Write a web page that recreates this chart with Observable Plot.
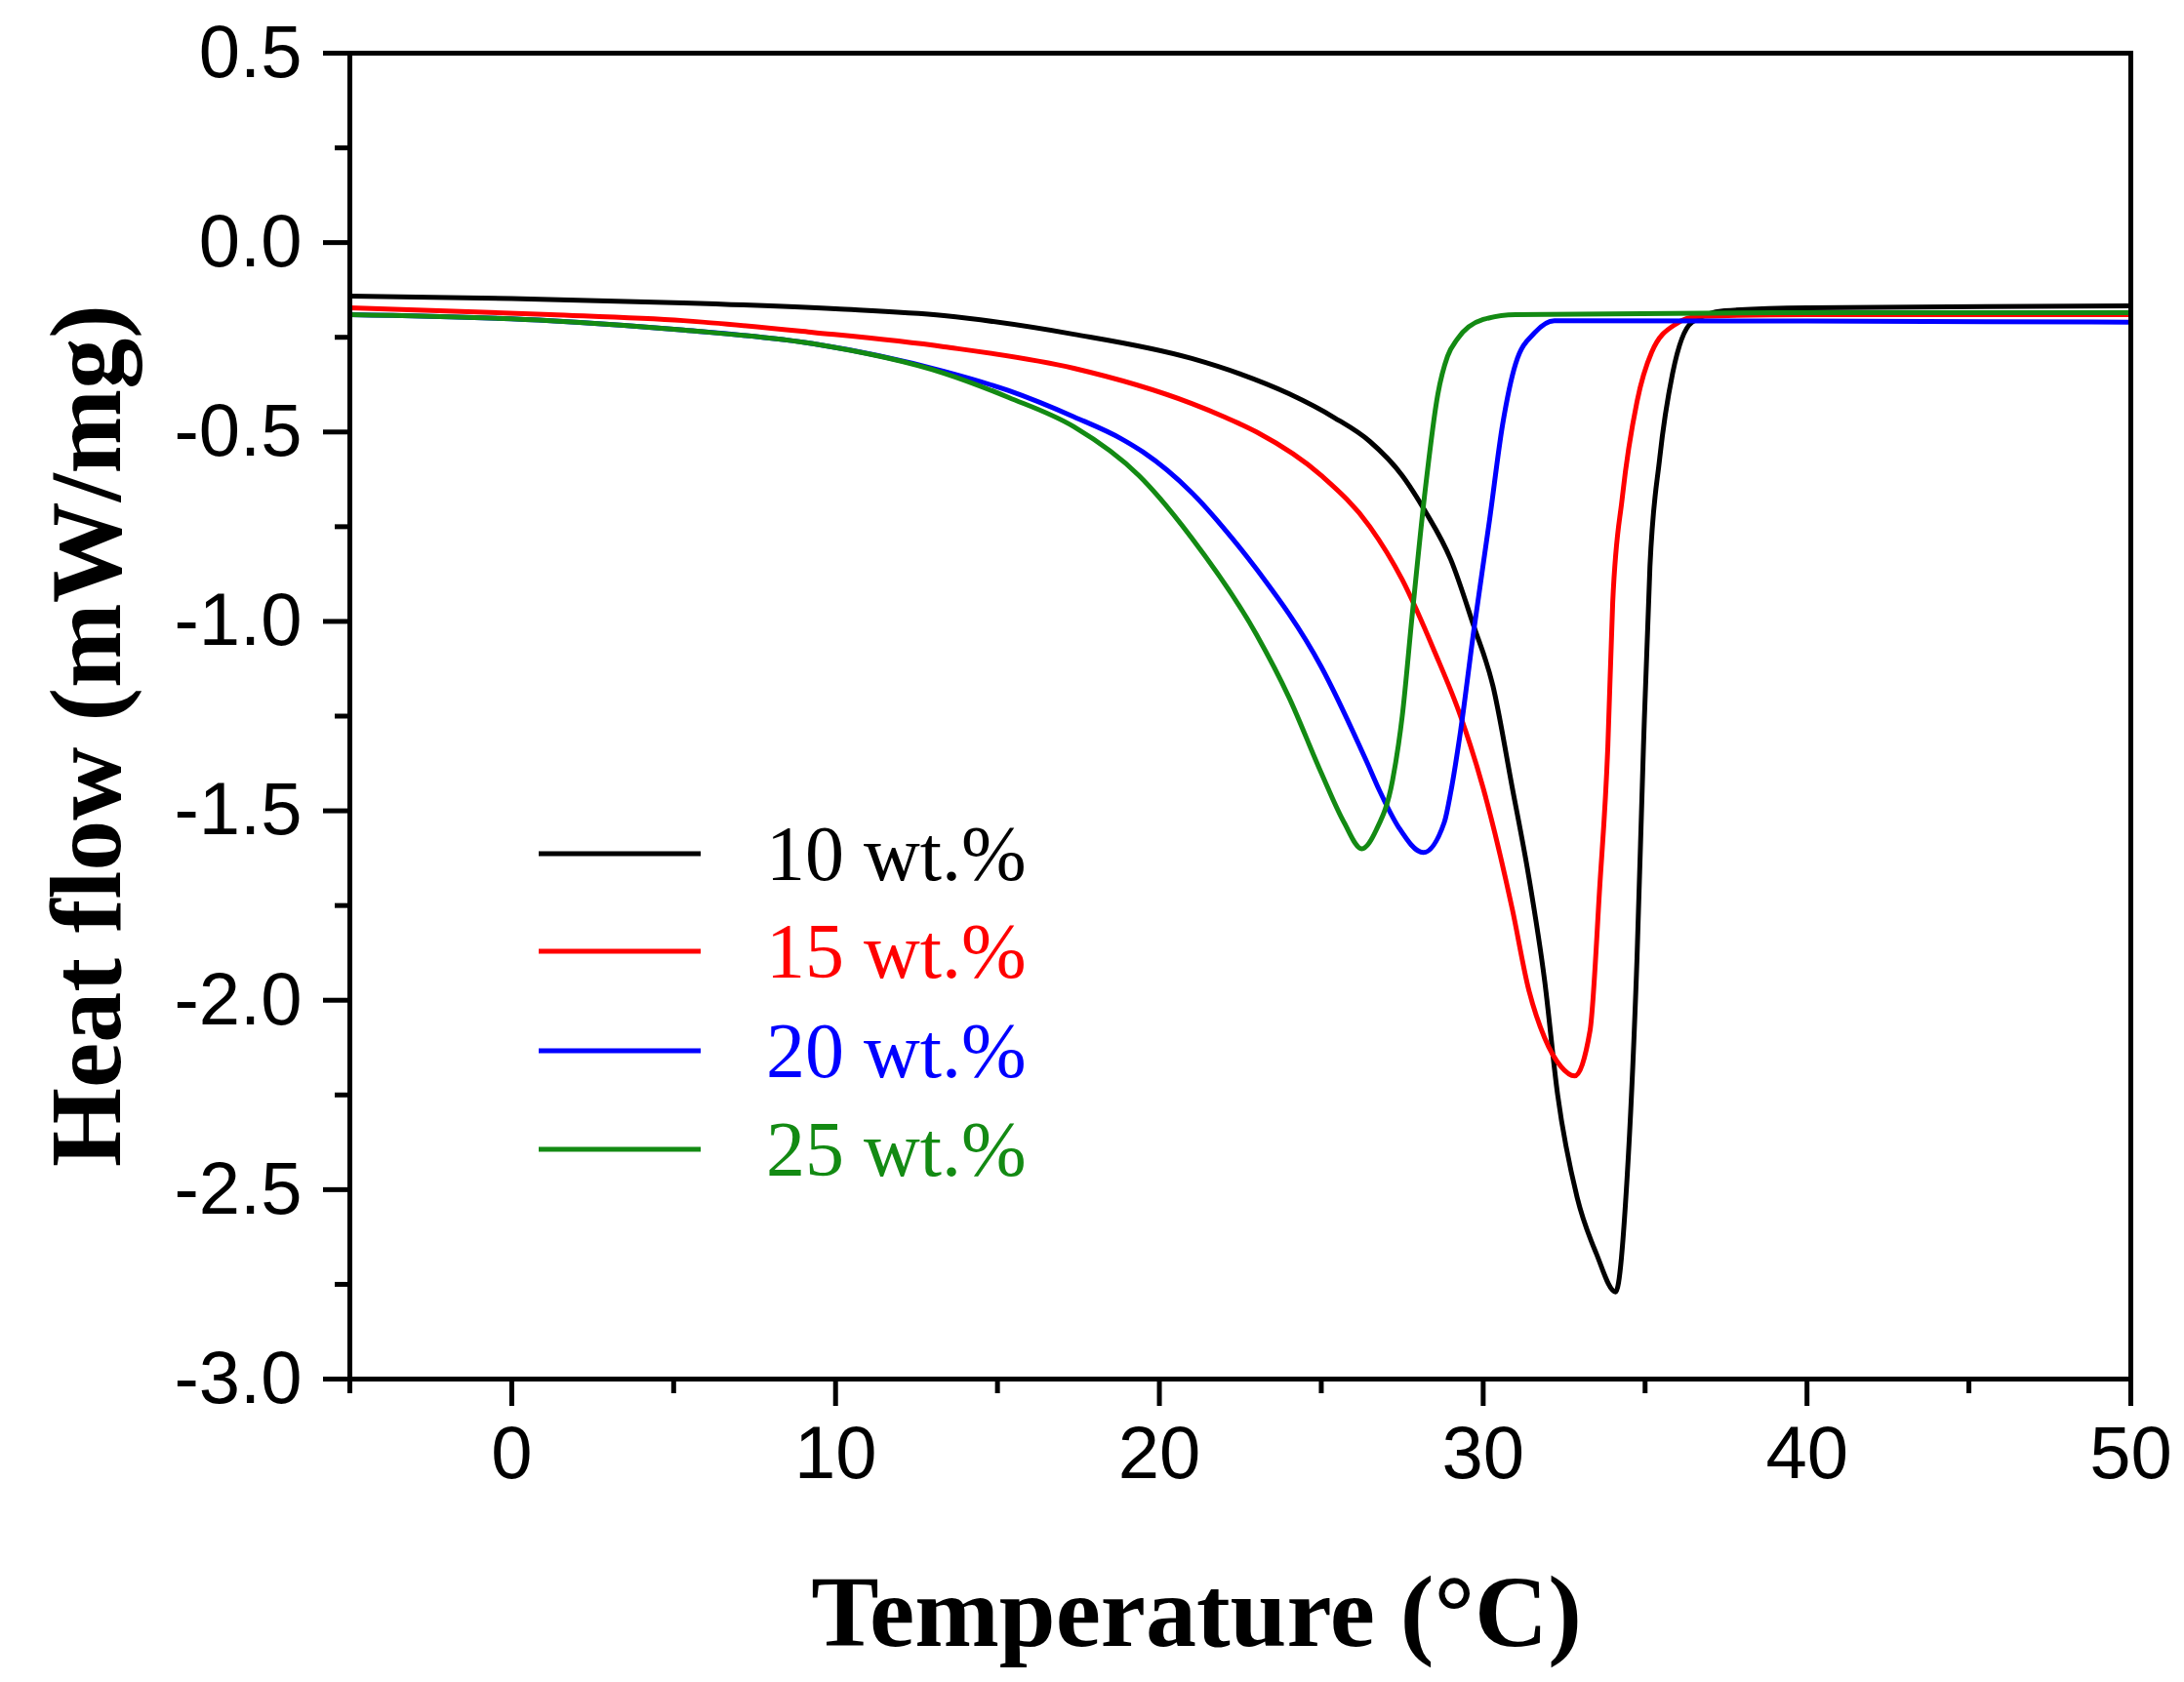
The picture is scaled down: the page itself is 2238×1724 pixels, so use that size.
<!DOCTYPE html>
<html><head><meta charset="utf-8">
<script src="https://cdn.jsdelivr.net/npm/d3@7"></script>
<script src="https://cdn.jsdelivr.net/npm/@observablehq/plot@0.6"></script>
<style>html,body{margin:0;padding:0;background:#fff;} #chart{width:2238px;height:1724px;}</style>
</head><body><div id="chart"></div>
<script>
const seriesNames = ["10 wt.%", "15 wt.%", "20 wt.%", "25 wt.%"];
const seriesColors = ["#000000", "#ff0000", "#0000ff", "#138a13"];

const temp10 = [-5, 0, 5.3, 10, 13.35, 17.36, 21.0, 22.5, 24.0, 25.4, 26.5, 27.5, 28.2, 29.0, 29.7, 30.3, 30.9, 31.4, 31.9, 32.3, 32.9, 33.5, 34.09, 34.45, 34.75, 34.95, 35.15, 35.45, 35.85, 36.45, 37.45, 40, 50];
const heat10 = [-0.141, -0.148, -0.159, -0.175, -0.193, -0.242, -0.306, -0.347, -0.399, -0.462, -0.525, -0.615, -0.708, -0.837, -1.01, -1.17, -1.44, -1.67, -1.95, -2.25, -2.52, -2.67, -2.77, -2.46, -1.89, -1.33, -0.855, -0.57, -0.345, -0.21, -0.18, -0.172, -0.167];

const temp15 = [-5, 1.2, 5.3, 9.3, 13.35, 17.36, 21.0, 22.0, 23.0, 25.0, 26.5, 27.5, 28.5, 29.3, 30.0, 30.9, 31.4, 31.9, 32.4, 32.82, 33.3, 33.6, 33.85, 34.0, 34.3, 34.75, 35.2, 35.95, 36.65, 40, 50];
const heat15 = [-0.172, -0.19, -0.206, -0.237, -0.275, -0.332, -0.425, -0.46, -0.50, -0.615, -0.75, -0.89, -1.08, -1.25, -1.44, -1.76, -1.97, -2.10, -2.175, -2.20, -2.08, -1.70, -1.33, -0.95, -0.67, -0.42, -0.29, -0.215, -0.195, -0.19, -0.19];

const temp20 = [-5, 1.2, 5.3, 9.3, 13.35, 15.35, 17.36, 18.87, 19.5, 21.0, 22.0, 23.0, 25.0, 26.4, 26.8, 27.4, 28.15, 28.8, 29.0, 29.3, 29.7, 30.2, 30.6, 31.0, 31.6, 32.2, 40, 50];
const heat20 = [-0.19, -0.206, -0.231, -0.267, -0.34, -0.391, -0.46, -0.52, -0.553, -0.66, -0.755, -0.862, -1.12, -1.37, -1.447, -1.545, -1.61, -1.53, -1.45, -1.29, -1.03, -0.73, -0.48, -0.32, -0.237, -0.206, -0.207, -0.21];

const temp25 = [-5, 1.2, 5.3, 9.3, 13.35, 15.35, 17.36, 19.37, 21.0, 23.0, 24.0, 25.0, 25.7, 26.25, 26.7, 27.2, 27.5, 27.8, 28.2, 28.6, 28.9, 29.2, 30.0, 31.0, 40, 50];
const heat25 = [-0.19, -0.206, -0.231, -0.267, -0.345, -0.409, -0.486, -0.615, -0.78, -1.035, -1.20, -1.40, -1.53, -1.60, -1.55, -1.42, -1.25, -0.99, -0.66, -0.40, -0.30, -0.255, -0.203, -0.19, -0.185, -0.185];

const xMajorTicks = [0, 10, 20, 30, 40, 50];
const xMinorTicks = [-5, 5, 15, 25, 35, 45];
const yMajorTicks = [0.5, 0, -0.5, -1, -1.5, -2, -2.5, -3];
const yMinorTicks = [0.25, -0.25, -0.75, -1.25, -1.75, -2.25, -2.75];

const xTitle = "Temperature (°C)";
const yTitle = "Heat flow (mW/mg)";

const pairs = [[temp10, heat10], [temp15, heat15], [temp20, heat20], [temp25, heat25]];
const rows = [];
pairs.forEach(([t, h], i) => t.forEach((x, j) => rows.push({series: seriesNames[i], t: x, hf: h[j]})));

const sansFont = "'Liberation Sans', Arial, sans-serif";
const serifFont = "'Liberation Serif', 'Times New Roman', serif";

const plot = Plot.plot({
  width: 2238, height: 1724,
  marginLeft: 358, marginRight: 55, marginTop: 54, marginBottom: 311,
  x: {domain: [-5, 50]},
  y: {domain: [-3, 0.5]},
  color: {domain: seriesNames, range: seriesColors},
  style: {background: "#fff", fontFamily: sansFont, overflow: "visible", color: "#000"},
  marks: [
    Plot.line(rows, {x: "t", y: "hf", z: "series", stroke: "series", strokeWidth: 5, curve: "monotone-x"}),
    Plot.frame({stroke: "#000", strokeWidth: 5}),
    Plot.axisX({ticks: xMajorTicks, tickSize: 28, tickPadding: 20, tickFormat: d => String(d), fontSize: 76, strokeWidth: 5, label: null}),
    Plot.axisX({ticks: xMinorTicks, tickSize: 15, tickFormat: () => "", strokeWidth: 5, label: null}),
    Plot.axisY({ticks: yMajorTicks, tickSize: 27, tickPadding: 22, tickFormat: d => d.toFixed(1), fontSize: 76, strokeWidth: 5, label: null}),
    Plot.axisY({ticks: yMinorTicks, tickSize: 15, tickFormat: () => "", strokeWidth: 5, label: null})
  ]
});

const svg = d3.select(plot);
svg.append("text")
  .attr("transform", "translate(123,754) rotate(-90)")
  .attr("text-anchor", "middle")
  .attr("font-family", serifFont).attr("font-weight", "bold").attr("font-size", 104)
  .attr("fill", "#000").text(yTitle);
svg.append("text")
  .attr("x", 1226).attr("y", 1687)
  .attr("text-anchor", "middle")
  .attr("font-family", serifFont).attr("font-weight", "bold").attr("font-size", 104)
  .attr("fill", "#000").text(xTitle);

const legendY = [875, 975, 1077, 1178];
const lg = svg.append("g");
seriesNames.forEach((name, i) => {
  lg.append("line").attr("x1", 552).attr("x2", 718).attr("y1", legendY[i]).attr("y2", legendY[i])
    .attr("stroke", seriesColors[i]).attr("stroke-width", 5);
  lg.append("text").attr("x", 785).attr("y", legendY[i] + 27)
    .attr("text-anchor", "start")
    .attr("font-family", serifFont).attr("font-size", 80).attr("fill", seriesColors[i]).text(name);
});

document.getElementById("chart").appendChild(plot);
</script>
</body></html>
